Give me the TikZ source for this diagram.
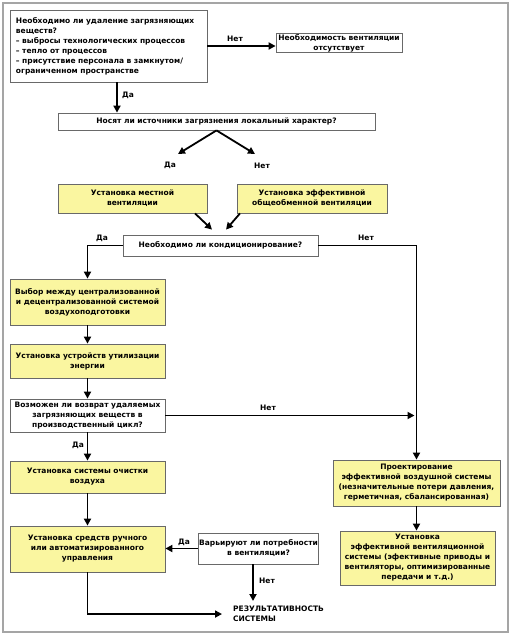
\documentclass[tikz,border=0pt]{standalone}
\usepackage{fontspec}
\setmainfont{DejaVu Sans}
\usetikzlibrary{arrows.meta}
\definecolor{boxyellow}{RGB}{250,246,160}
\definecolor{boxgrey}{RGB}{105,105,105}
\definecolor{framegrey}{RGB}{165,165,165}
\begin{document}
\begin{tikzpicture}[x=1pt,y=-1pt,
  every node/.style={font=\fontsize{7.5}{10}\selectfont\bfseries},
  wbox/.style={draw=boxgrey, line width=0.8pt, fill=white, align=center, inner sep=1pt},
  ybox/.style={wbox, fill=boxyellow},
  arr/.style={line width=1.8pt, -{Triangle[length=7pt,width=7pt]}},
  lbl/.style={inner sep=0pt}]
\useasboundingbox (0,0) rectangle (511,635);
\draw[framegrey, line width=1.5pt] (3,3) rectangle (508,632);

\node[wbox, minimum width=197pt, minimum height=72pt, text width=185pt, align=left] (top) at (108.5,46)
  {Необходимо ли удаление загрязняющих\\веществ?\\– выбросы технологических процессов\\– тепло от процессов\\– присутствие персонала в замкнутом/\\ограниченном пространстве};
\node[wbox, minimum width=126pt, minimum height=18pt, inner sep=0.5pt] (need) at (339,43)
  {Необходимость вентиляции\\отсутствует};
\node[wbox, minimum width=317pt, minimum height=17pt] (nos) at (216.5,121.5)
  {Носят ли источники загрязнения локальный характер?};
\node[ybox, minimum width=149pt, minimum height=29pt] (loc) at (132.5,198.5)
  {Установка местной\\вентиляции};
\node[ybox, minimum width=150pt, minimum height=29pt] (gen) at (312,198.5)
  {Установка эффективной\\общеобменной вентиляции};
\node[wbox, minimum width=195pt, minimum height=21pt] (cond) at (220.5,245.5)
  {Необходимо ли кондиционирование?};
\node[ybox, minimum width=155pt, minimum height=46pt] (vyb) at (87.5,302)
  {Выбор между централизованной\\и децентрализованной системой\\воздухоподготовки};
\node[ybox, minimum width=155pt, minimum height=34pt] (en) at (87.5,361)
  {Установка устройств утилизации\\энергии};
\node[wbox, minimum width=155pt, minimum height=33pt] (voz) at (87.5,415.5)
  {Возможен ли возврат удаляемых\\загрязняющих веществ в\\производственный цикл?};
\node[ybox, minimum width=155pt, minimum height=32pt] (och) at (87.5,477)
  {Установка системы очистки\\воздуха};
\node[ybox, minimum width=155pt, minimum height=46pt] (upr) at (87.5,549)
  {Установка средств ручного\\или автоматизированного\\управления};
\node[wbox, minimum width=117pt, minimum height=31pt, inner sep=0.5pt] (var) at (258.5,548.5)
  {Варьируют ли потребности\\в вентиляции?};
\node[ybox, minimum width=167pt, minimum height=46pt] (proj) at (416.5,483)
  {Проектирование\\эффективной воздушной системы\\(незначительные потери давления,\\герметичная, сбалансированная)};
\node[ybox, minimum width=155pt, minimum height=54pt] (inst) at (417.5,558)
  {Установка\\эффективной вентиляционной\\системы (эфективные приводы и\\вентиляторы, оптимизированные\\передачи и т.д.)};
\node[lbl, anchor=north west, align=left] (res) at (233,606)
  {РЕЗУЛЬТАТИВНОСТЬ\\СИСТЕМЫ};

% labels
\node[lbl] (l1) at (235,39) {Нет};
\node[lbl] (l2) at (128,95) {Да};
\node[lbl] (l3) at (170,165) {Да};
\node[lbl] (l4) at (262,166) {Нет};
\node[lbl] (l5) at (102,238) {Да};
\node[lbl] (l6) at (366,238) {Нет};
\node[lbl] (l7) at (268,408) {Нет};
\node[lbl] (l8) at (78,445) {Да};
\node[lbl] (l9) at (184,542) {Да};
\node[lbl] (l10) at (267,581) {Нет};

\coordinate (splitL) at (178,154);
\coordinate (splitR) at (255,154);

% connectors
\draw[arr] (top.east) -- (top.east -| need.west);
\draw[arr] ([xshift=8.5pt]top.south) -- ([xshift=8.5pt]top.south |- nos.north);
\draw[arr] (nos.south) -- (splitL);
\draw[arr] (nos.south) -- (splitR);
\draw[arr] ([xshift=62.5pt]loc.south) -- ([xshift=-8.5pt,yshift=5pt]cond.north);
\draw[arr] ([xshift=-72pt]gen.south) -- ([xshift=5.5pt,yshift=5pt]cond.north);
\draw[arr] (cond.west) -| (vyb.north);
\draw[arr] (cond.east) -| (proj.north);
\draw[arr] (vyb.south) -- (en.north);
\draw[arr] (en.south) -- (voz.north);
\draw[arr, shorten >=2pt] (voz.east) -- (voz.east -| proj.north);
\draw[arr] (voz.south) -- (och.north);
\draw[arr] (och.south) -- (upr.north);
\draw[arr] (var.west) -- (var.west -| upr.east);
\draw[arr, shorten >=5pt] ([xshift=-5.5pt]var.south) -- ([xshift=-5.5pt]var.south |- res.north);
\draw[arr, shorten >=11pt] (upr.south) |- (res.west);
\draw[arr] (proj.south) -- (proj.south |- inst.north);
\end{tikzpicture}
\end{document}
